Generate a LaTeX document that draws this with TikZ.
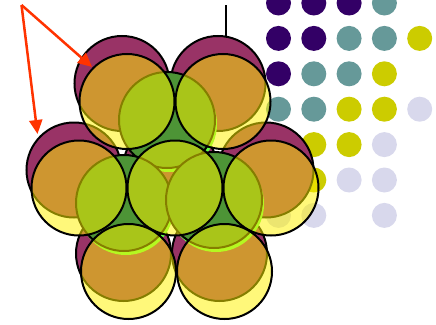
\documentclass[tikz,border=0pt]{standalone}
\usetikzlibrary{arrows.meta}
\definecolor{dpurple}{HTML}{330066}
\definecolor{dteal}{HTML}{669999}
\definecolor{dyel}{HTML}{CCCC00}
\definecolor{dlav}{HTML}{D8D8EC}
\definecolor{backball}{HTML}{993366}
\definecolor{midball}{HTML}{4D9436}
\definecolor{midlight}{HTML}{66FF44}
\definecolor{arrowred}{HTML}{FF3300}
\tikzset{
  dot/.style={fill=#1,draw=none},
  backsphere/.style={fill=backball,draw=black,line width=2pt},
  midglow/.style={fill=midlight,draw=none},
  midsphere/.style={fill=midball,draw=black,line width=2pt},
  frontsphere/.style={fill=yellow,fill opacity=0.52,draw=black,draw opacity=1,line width=2pt},
  pointer/.style={draw=arrowred,line width=2.5pt,-{Triangle[length=14pt,width=13pt]}},
}
\begin{document}
\begin{tikzpicture}[x=1pt,y=-1pt]
\useasboundingbox (0,0) rectangle (436,324);
% dot grid
\foreach \c/\r/\col in {
  0/0/dpurple,1/0/dpurple,2/0/dpurple,3/0/dteal,
  0/1/dpurple,1/1/dpurple,2/1/dteal,3/1/dteal,4/1/dyel,
  0/2/dpurple,1/2/dteal,2/2/dteal,3/2/dyel,
  0/3/dteal,1/3/dteal,2/3/dyel,3/3/dyel,4/3/dlav,
  0/4/dyel,1/4/dyel,2/4/dyel,3/4/dlav,
  0/5/dyel,1/5/dyel,2/5/dlav,3/5/dlav,
  0/6/dlav,1/6/dlav,3/6/dlav}
  {\fill[dot=\col] ({278.5+35.3*\c},{3+35.4*\r}) circle[radius=12.5pt];}
% vertical line
\coordinate (vtop) at (226,5);
\coordinate (vbot) at (226,42);
\draw[line width=1.6pt] (vtop) -- (vbot);
% back layer
\foreach \x/\y in {127/101.5,223/101.5,79/188,175/188,271/188,128.5/271.5,224.5/271.5}
  \draw[backsphere] ({\x-5},{\y-18}) circle[radius=47.5pt];
% middle layer (light rim, then sphere)
\foreach \x/\y in {167/120,124/203,214/200}
  \fill[midglow] ({\x+2},{\y+4}) circle[radius=48pt];
\foreach \x/\y in {167/120,124/203,214/200}
  \draw[midsphere] (\x,\y) circle[radius=48pt];
% front layer
\foreach \x/\y in {127/101.5,223/101.5,79/188,175/188,271/188,128.5/271.5,224.5/271.5}
  \draw[frontsphere] (\x,\y) circle[radius=47.5pt];
% arrows
\coordinate (src) at (21.5,5);
\coordinate (tipA) at (92,67);
\coordinate (tipB) at (37.5,134);
\draw[pointer] (src) -- (tipA);
\draw[pointer] (src) -- (tipB);
\end{tikzpicture}
\end{document}
